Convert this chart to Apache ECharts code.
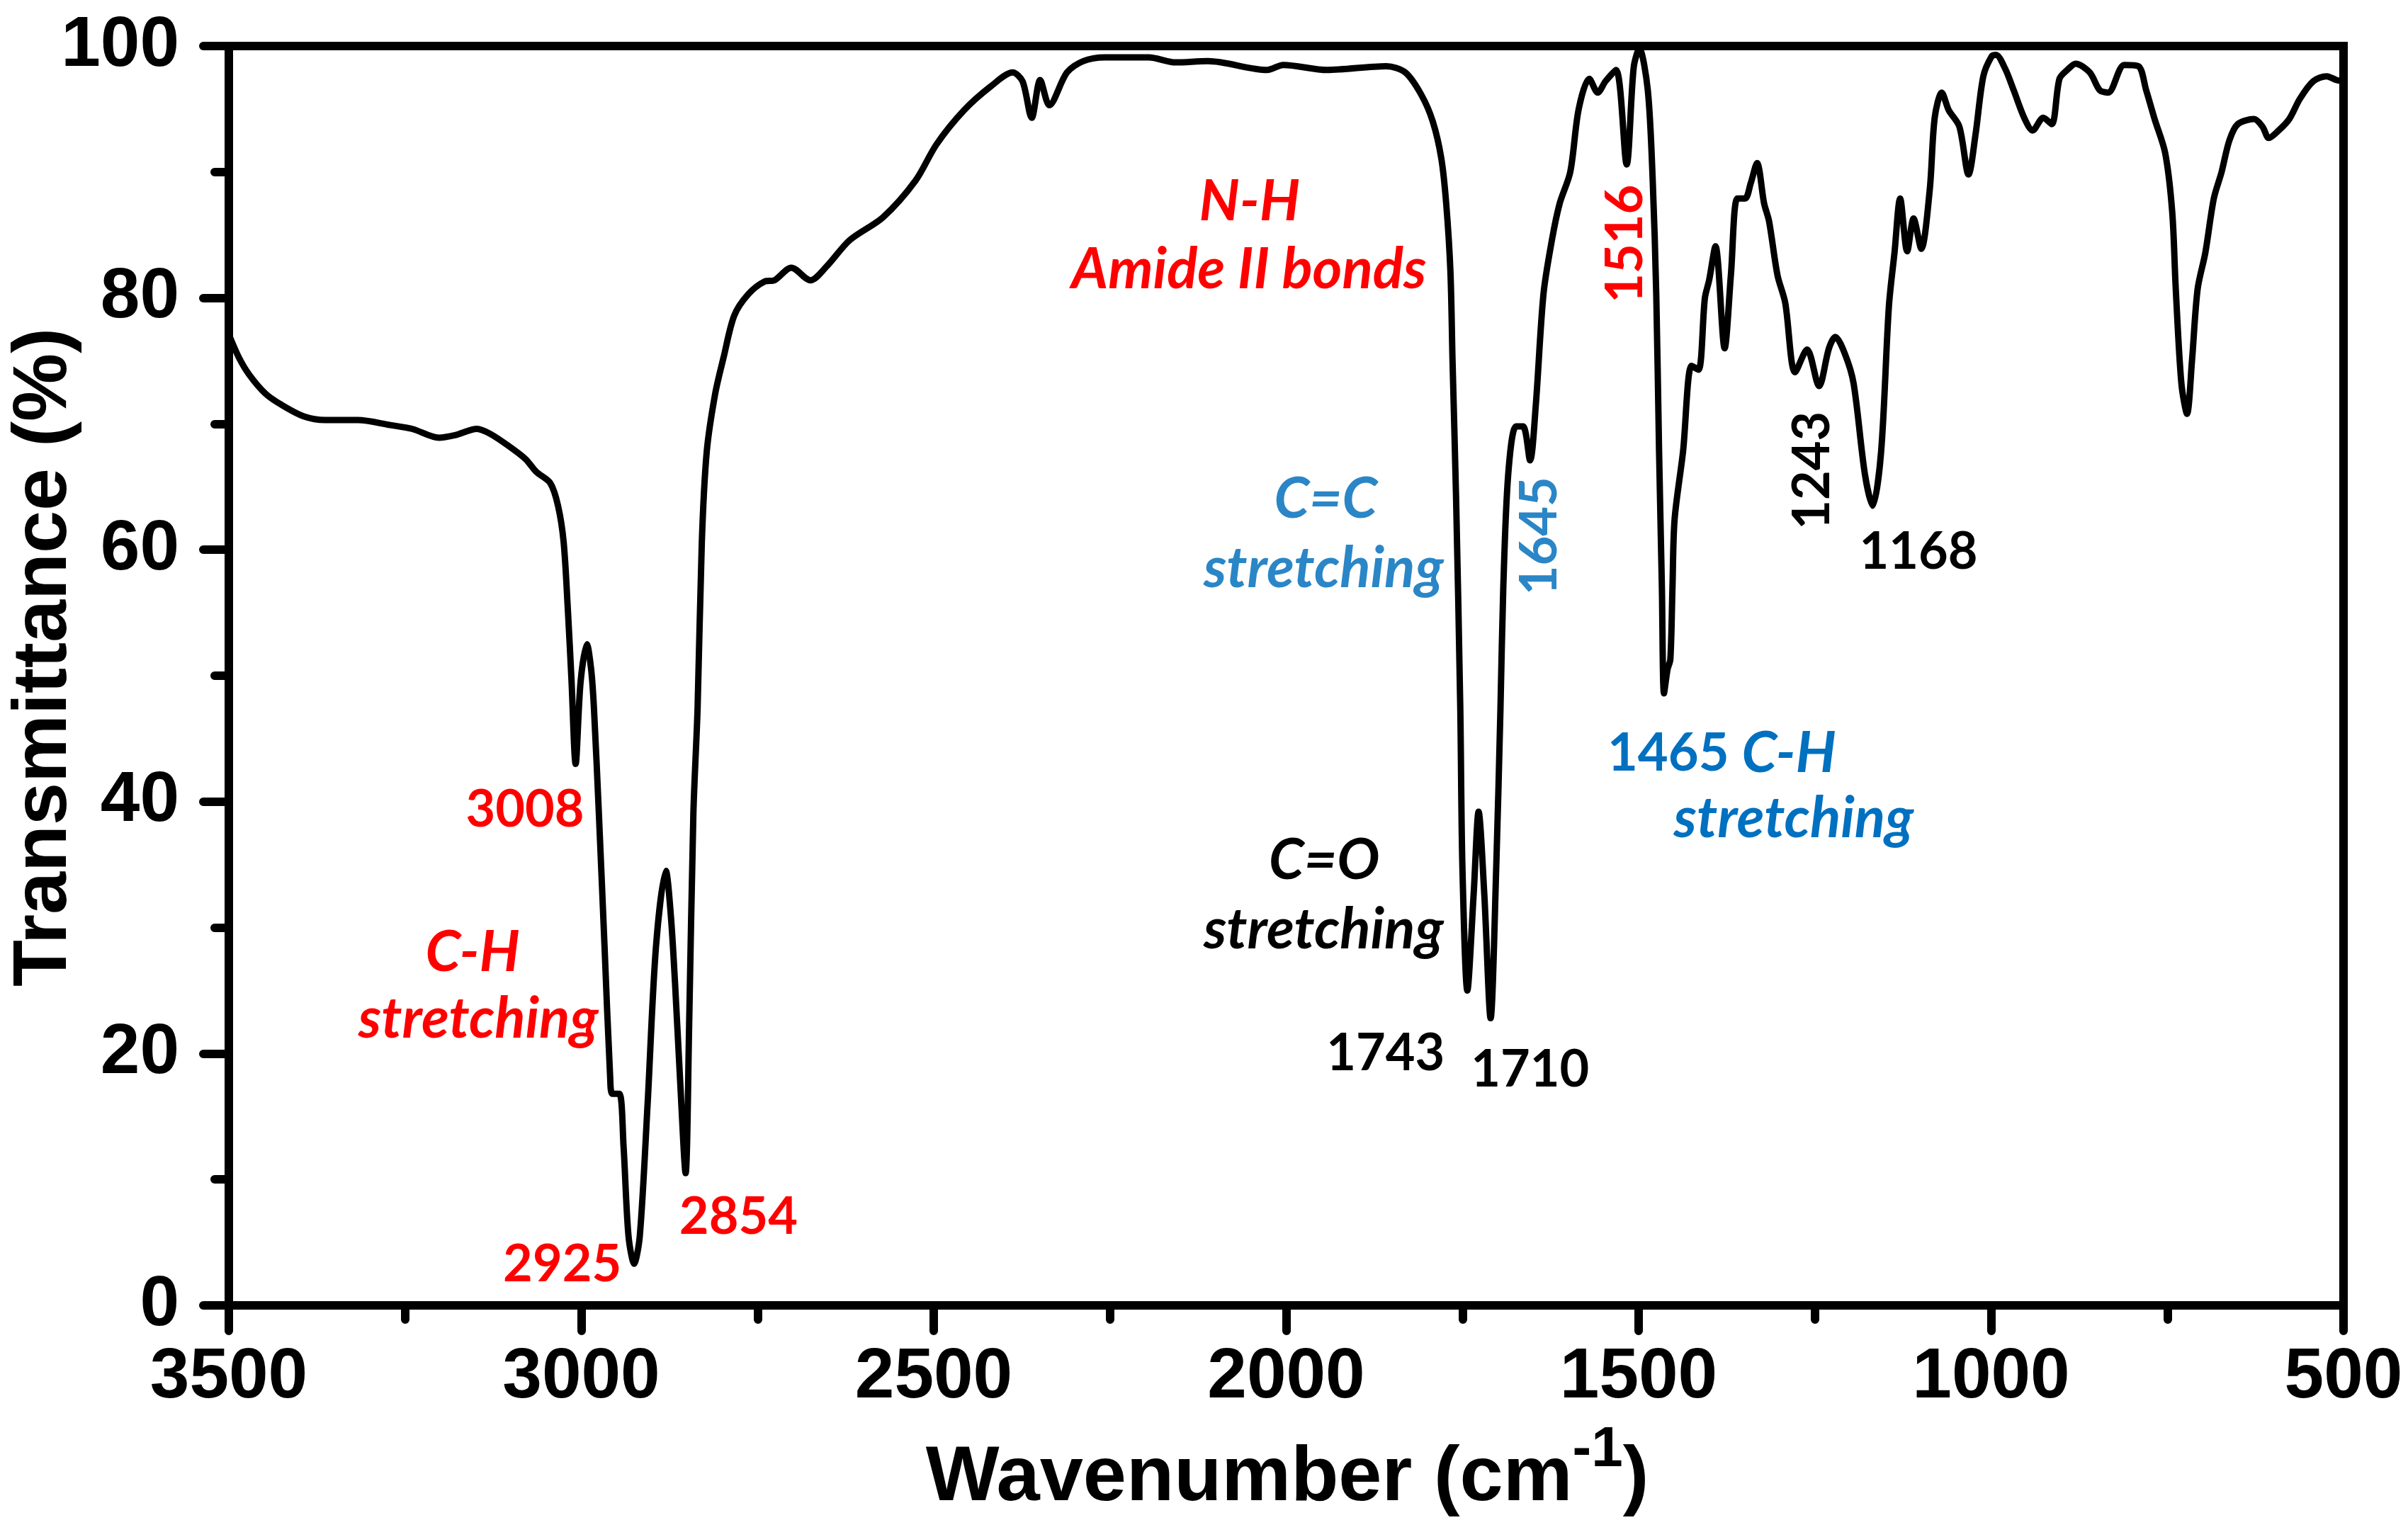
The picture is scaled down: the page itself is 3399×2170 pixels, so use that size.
<!DOCTYPE html>
<html>
<head>
<meta charset="utf-8">
<script src="https://cdn.jsdelivr.net/npm/echarts@6/dist/echarts.min.js"></script>
<style>
html, body { margin: 0; padding: 0; background: #fff; }
#chart { width: 3399px; height: 2170px; }
</style>
</head>
<body>
<div id="chart"></div>
<script>
// FTIR spectrum
const wavenumbers = [
	3500, 3486, 3471, 3448, 3425, 3394, 3363, 3317, 3271, 3240, 3202, 3179, 3148, 3129, 3102, 3079,
	3064, 3044, 3033, 3025, 3019, 3014, 3008, 3001, 2992, 2986, 2982, 2975, 2967, 2959, 2956, 2946,
	2940, 2933, 2925, 2917, 2906, 2894, 2880, 2873, 2867, 2860, 2852, 2847, 2841, 2835, 2829, 2822,
	2810, 2798, 2783, 2763, 2740, 2726, 2702, 2675, 2652, 2619, 2572, 2526, 2496, 2457, 2419, 2388,
	2374, 2361, 2349, 2336, 2311, 2288, 2257, 2195, 2157, 2111, 2027, 2004, 1942, 1858, 1831, 1808,
	1792, 1780, 1773, 1767, 1764, 1759, 1753, 1750, 1743, 1734, 1727, 1719, 1710, 1702, 1696, 1692,
	1685, 1674, 1664, 1654, 1646, 1635, 1623, 1612, 1597, 1585, 1570, 1558, 1547, 1532, 1517, 1507,
	1499, 1487, 1480, 1475, 1471, 1467, 1464, 1459, 1455, 1452, 1449, 1437, 1425, 1415, 1406, 1400,
	1391, 1378, 1369, 1360, 1349, 1341, 1332, 1322, 1315, 1303, 1292, 1278, 1261, 1244, 1230, 1221,
	1207, 1195, 1179, 1168, 1156, 1145, 1137, 1129, 1119, 1110, 1099, 1087, 1080, 1070, 1060, 1045,
	1032, 1022, 1011, 999, 993, 980, 968, 953, 941, 926, 914, 903, 892, 880, 860, 846,
	834, 811, 791, 780, 768, 753, 743, 738, 730, 722, 715, 707, 696, 684, 673, 662,
	650, 627, 615, 606, 592, 577, 562, 543, 524, 510, 500
];
const transmittance = [
	77.1, 75.3, 73.9, 72.4, 71.5, 70.6, 70.3, 70.3, 69.9, 69.6, 68.9, 69.1, 69.6, 69.2, 68.2, 67.2,
	66.2, 65.3, 63.5, 60.6, 55.2, 49.8, 43.0, 49.5, 52.5, 50.5, 47.4, 39.0, 28.5, 18.1, 16.8, 16.8,
	12.6, 5.5, 3.3, 5.5, 15.9, 28.5, 34.5, 31.0, 25.6, 18.1, 10.5, 22.2, 39.0, 47.4, 60.6, 67.8,
	72.4, 75.3, 78.6, 80.3, 81.3, 81.4, 82.4, 81.4, 82.5, 84.6, 86.4, 89.3, 92.2, 94.9, 96.8, 97.9,
	97.2, 94.3, 97.3, 95.3, 97.9, 98.8, 99.1, 99.1, 98.7, 98.8, 98.1, 98.5, 98.1, 98.4, 97.9, 96.1,
	94.0, 91.1, 87.5, 82.1, 75.0, 64.2, 47.4, 34.8, 25.0, 32.7, 39.2, 32.7, 22.8, 34.8, 47.4, 57.0,
	66.0, 69.8, 69.8, 67.1, 71.4, 80.3, 84.6, 87.5, 90.0, 95.0, 97.4, 96.3, 97.2, 98.1, 90.6, 98.3,
	99.8, 96.5, 89.3, 80.3, 67.8, 57.0, 48.6, 50.5, 51.3, 57.0, 62.4, 67.8, 74.6, 74.3, 80.0, 81.4,
	84.1, 76.0, 81.9, 87.9, 87.9, 89.1, 90.7, 87.5, 86.1, 81.8, 79.6, 74.1, 75.9, 73.0, 76.0, 76.9,
	75.5, 73.2, 66.0, 63.5, 67.8, 79.3, 83.6, 87.9, 83.7, 86.3, 83.9, 88.6, 94.3, 96.3, 94.9, 93.6,
	89.8, 93.0, 97.6, 99.2, 99.3, 98.2, 96.5, 94.3, 93.3, 94.3, 93.8, 97.4, 98.1, 98.6, 97.9, 96.5,
	96.3, 98.5, 98.4, 96.5, 94.2, 91.5, 86.8, 80.7, 73.2, 70.8, 75.0, 80.7, 83.6, 87.9, 90.0, 92.5,
	93.8, 94.2, 93.6, 92.7, 93.3, 94.2, 95.8, 97.2, 97.6, 97.3, 97.2
];

// peak labels: [wavenumber, transmittance, text, colour, italic, vertical]
const RED = '#ff0000', BLUE1 = '#2a86c6', BLUE2 = '#0070c0', BLACK = '#000';
const notes = [
	[2052, 87.6, 'N-H', RED, true, false],
	[2053, 82.2, 'Amide II bonds', RED, true, false],
	[1518, 84.3, '1516', RED, false, true],
	[1944, 64.0, 'C=C', BLUE1, true, false],
	[1947, 58.5, 'stretching', BLUE1, true, false],
	[1640, 61.1, '1645', BLUE1, false, true],
	[1946, 35.3, 'C=O', BLACK, true, false],
	[1947, 29.8, 'stretching', BLACK, true, false],
	[1859, 20.0, '1743', BLACK, false, false],
	[1654, 18.7, '1710', BLACK, false, false],
	[1382, 43.8, '{n|1465 }{i|C-H}', BLUE2, false, false],
	[1280, 38.6, 'stretching', BLUE2, true, false],
	[1253, 66.3, '1243', BLACK, false, true],
	[1103, 59.8, '1168', BLACK, false, false],
	[3080, 39.3, '3008', RED, false, false],
	[3154, 28.0, 'C-H', RED, true, false],
	[3146, 22.7, 'stretching', RED, true, false],
	[3027, 3.2, '2925', RED, false, false],
	[2777, 7.0, '2854', RED, false, false]
];

const AXIS_FONT = '"Liberation Sans", Arial, sans-serif';
const NOTE_FONT = 'Lato, "Open Sans", sans-serif';

let chart = echarts.init(document.getElementById('chart'));

let opt = {
	backgroundColor: '#fff',
	animation: false,
	grid: {
		left: 323, right: 91, top: 65, bottom: 327,
		show: true,
		borderColor: '#000',
		borderWidth: 12
	},
	xAxis: {
		type: 'value',
		min: 500, max: 3500, interval: 500,
		inverse: true,
		axisLine: { lineStyle: { color: '#000', width: 12 } },
		axisTick: { length: 36, lineStyle: { color: '#000', width: 12, cap: 'round' } },
		minorTick: { show: true, splitNumber: 2, length: 20, lineStyle: { color: '#000', width: 12, cap: 'round' } },
		splitLine: { show: false },
		axisLabel: {
			margin: 52, color: '#000', fontSize: 100, fontWeight: 'bold', fontFamily: AXIS_FONT,
			formatter: v => String(v)
		}
	},
	yAxis: {
		type: 'value',
		min: 0, max: 100, interval: 20,
		axisLine: { show: true, lineStyle: { color: '#000', width: 12 } },
		axisTick: { show: true, length: 36, lineStyle: { color: '#000', width: 12, cap: 'round' } },
		minorTick: { show: true, splitNumber: 2, length: 20, lineStyle: { color: '#000', width: 12, cap: 'round' } },
		splitLine: { show: false },
		axisLabel: {
			margin: 70, color: '#000', fontSize: 100, fontWeight: 'bold', fontFamily: AXIS_FONT,
			formatter: v => String(v)
		}
	},
	series: [{
		type: 'line',
		data: wavenumbers.map((w, i) => [w, transmittance[i]]),
		showSymbol: false,
		smooth: 0.3,
		lineStyle: { color: '#000', width: 9, join: 'round' },
		z: 3
	}]
};
chart.setOption(opt);

// axis titles and peak labels
let graphics = [
	{
		type: 'text', x: 63, y: 928, rotation: Math.PI / 2,
		style: {
			text: 'Transmittance (%)', fill: '#000',
			font: 'bold 108px ' + AXIS_FONT,
			align: 'center', verticalAlign: 'middle'
		}
	},
	{
		type: 'text', x: 1817, y: 2088,
		style: {
			text: '{a|Wavenumber (cm}{s|-1}{a|)}',
			align: 'center', verticalAlign: 'middle',
			rich: {
				a: { fontSize: 110, fontWeight: 'bold', fontFamily: AXIS_FONT, fill: '#000', lineHeight: 160 },
				s: { fontSize: 80, fontWeight: 'bold', fontFamily: AXIS_FONT, fill: '#000', verticalAlign: 'top' }
			}
		}
	}
];
notes.forEach(n => {
	let p = chart.convertToPixel({ gridIndex: 0 }, [n[0], n[1]]);
	let size = n[4] ? 80 : 72;
	graphics.push({
		type: 'text', x: p[0], y: p[1],
		rotation: n[5] ? Math.PI / 2 : 0,
		z: 10,
		style: {
			text: n[2], fill: n[3],
			fontSize: size, fontWeight: 'bold', fontFamily: NOTE_FONT,
			fontStyle: n[4] ? 'italic' : 'normal',
			align: 'center', verticalAlign: 'middle',
			rich: {
				n: { fontSize: 74, fontWeight: 'bold', fontFamily: NOTE_FONT, fill: n[3] },
				i: { fontSize: 80, fontWeight: 'bold', fontStyle: 'italic', fontFamily: NOTE_FONT, fill: n[3] }
			}
		}
	});
});
chart.setOption({ graphic: graphics });
</script>
</body>
</html>
